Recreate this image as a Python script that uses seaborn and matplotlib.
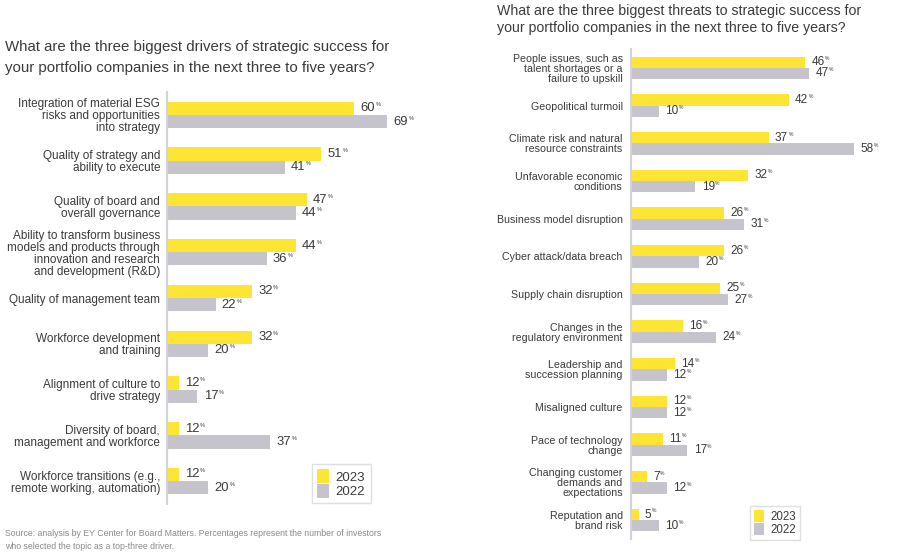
import matplotlib
matplotlib.use("Agg")
import matplotlib.pyplot as plt
from matplotlib.patches import Patch
import seaborn as sns
import pandas as pd

# Drivers of strategic success
driver_labels = [
    "Integration of material ESG\nrisks and opportunities\ninto strategy",
    "Quality of strategy and\nability to execute",
    "Quality of board and\noverall governance",
    "Ability to transform business\nmodels and products through\ninnovation and research\nand development (R&D)",
    "Quality of management team",
    "Workforce development\nand training",
    "Alignment of culture to\ndrive strategy",
    "Diversity of board,\nmanagement and workforce",
    "Workforce transitions (e.g.,\nremote working, automation)",
]
driver_2023 = [60, 51, 47, 44, 32, 32, 12, 12, 12]
driver_2022 = [69, 41, 44, 36, 22, 20, 17, 37, 20]

# Threats to strategic success
threat_labels = [
    "People issues, such as\ntalent shortages or a\nfailure to upskill",
    "Geopolitical turmoil",
    "Climate risk and natural\nresource constraints",
    "Unfavorable economic\nconditions",
    "Business model disruption",
    "Cyber attack/data breach",
    "Supply chain disruption",
    "Changes in the\nregulatory environment",
    "Leadership and\nsuccession planning",
    "Misaligned culture",
    "Pace of technology\nchange",
    "Changing customer\ndemands and\nexpectations",
    "Reputation and\nbrand risk",
]
threat_2023 = [46, 42, 37, 32, 26, 26, 25, 16, 14, 12, 11, 7, 5]
threat_2022 = [47, 10, 58, 19, 31, 20, 27, 24, 12, 12, 17, 12, 10]

years = ["2023", "2022"]
YELLOW = "#FFE533"
GREY = "#C5C3CC"
TEXT = "#3a3a3a"
FONT = "Liberation Sans"

sns.set_theme(style="white")
plt.rcParams["font.family"] = [FONT, "DejaVu Sans"]

W, H = 913, 556
fig = plt.figure(figsize=(W / 100, H / 100), dpi=100)
fig.patch.set_facecolor("white")


def px_axes(left, top, right, bottom):
    return fig.add_axes([left / W, 1 - bottom / H, (right - left) / W, (bottom - top) / H])


def long_frame(labels, v23, v22):
    return pd.DataFrame({
        "topic": labels * 2,
        "year": [years[0]] * len(labels) + [years[1]] * len(labels),
        "share": v23 + v22,
    })


def panel(ax, labels, v23, v22, xlim, bar_width, tick_size, val_size, spacing, pad):
    df = long_frame(labels, v23, v22)
    sns.barplot(data=df, x="share", y="topic", hue="year", orient="h",
                palette=[YELLOW, GREY], hue_order=years, width=bar_width,
                dodge=True, gap=0, saturation=1, legend=False, ax=ax,
                edgecolor="none", linewidth=0)
    ax.set_xlim(*xlim)
    ax.set_ylim(len(labels) - 0.5, -0.5)
    ax.set_xlabel("")
    ax.set_ylabel("")
    ax.set_xticks([])
    for s in ("top", "right", "bottom"):
        ax.spines[s].set_visible(False)
    ax.spines["left"].set_color("#d4d4d8")
    ax.spines["left"].set_linewidth(1.6)
    ax.tick_params(axis="y", length=0, pad=pad, labelsize=tick_size, labelcolor=TEXT)
    for t in ax.get_yticklabels():
        t.set_horizontalalignment("right")
        t.set_multialignment("right")
        t.set_linespacing(spacing)
    # value labels with a small raised percent sign
    for container in ax.containers:
        for bar in container:
            v = bar.get_width()
            yc = bar.get_y() + bar.get_height() / 2
            num = ax.annotate(f"{v:.0f}", xy=(v, yc), xytext=(4.5, 0),
                              textcoords="offset points", va="center", ha="left",
                              fontsize=val_size, color=TEXT, annotation_clip=False)
            ax.annotate("%", xy=(1, 1), xycoords=num, xytext=(0.3, -3.6),
                        textcoords="offset points", va="bottom", ha="left",
                        fontsize=val_size * 0.42, color=TEXT)


# left panel: drivers
axL = px_axes(167, 92, 420, 504)
panel(axL, driver_labels, driver_2023, driver_2022,
      xlim=(8.7, 8.7 + 253 / 3.65), bar_width=0.58, tick_size=8.5, val_size=9.4,
      spacing=1.0, pad=5)

# right panel: threats
axR = px_axes(631, 49, 900, 539)
panel(axR, threat_labels, threat_2023, threat_2022,
      xlim=(3.15, 3.15 + 269 / 4.065), bar_width=0.6, tick_size=7.7, val_size=8.5,
      spacing=1.0, pad=6)

# titles
fig.text(5 / W, 1 - 51 / H, "What are the three biggest drivers of strategic success for",
         fontsize=10.85, color=TEXT, ha="left", va="baseline")
fig.text(5 / W, 1 - 72 / H, "your portfolio companies in the next three to five years?",
         fontsize=10.85, color=TEXT, ha="left", va="baseline")
fig.text(497 / W, 1 - 15 / H, "What are the three biggest threats to strategic success for",
         fontsize=10.15, color=TEXT, ha="left", va="baseline")
fig.text(497 / W, 1 - 32 / H, "your portfolio companies in the next three to five years?",
         fontsize=10.15, color=TEXT, ha="left", va="baseline")

# source note
fig.text(5 / W, 1 - 536 / H,
         "Source: analysis by EY Center for Board Matters. Percentages represent the number of investors",
         fontsize=6.35, color="#8a8a8a", ha="left", va="baseline")
fig.text(5 / W, 1 - 549 / H, "who selected the topic as a top-three driver.",
         fontsize=6.35, color="#8a8a8a", ha="left", va="baseline")

# legends
handles = [Patch(facecolor=YELLOW, edgecolor="none"), Patch(facecolor=GREY, edgecolor="none")]
legL = fig.legend(handles, years, loc="upper left", bbox_to_anchor=(312 / W, 1 - 464 / H),
                  fontsize=9.5, frameon=True, fancybox=False, handlelength=0.9,
                  handleheight=1.25, handletextpad=0.5, labelspacing=0.0,
                  borderpad=0.4, borderaxespad=0)
legL.get_frame().set_edgecolor("#d8d8dc")
legL.get_frame().set_linewidth(1.0)
for t in legL.get_texts():
    t.set_color(TEXT)

legR = fig.legend(handles, years, loc="upper left", bbox_to_anchor=(750 / W, 1 - 506 / H),
                  fontsize=8.3, frameon=True, fancybox=False, handlelength=0.9,
                  handleheight=1.2, handletextpad=0.5, labelspacing=0.0,
                  borderpad=0.35, borderaxespad=0)
legR.get_frame().set_edgecolor("#d8d8dc")
legR.get_frame().set_linewidth(1.0)
for t in legR.get_texts():
    t.set_color(TEXT)

fig.savefig("out.png", dpi=100, facecolor="white")
